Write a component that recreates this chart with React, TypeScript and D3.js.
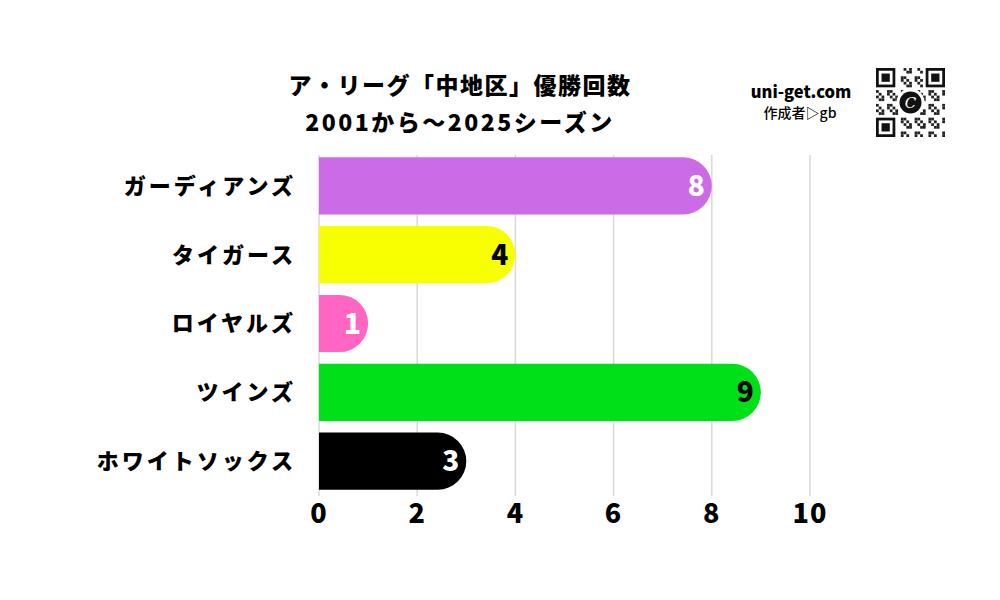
import React, { useEffect, useRef } from 'react';
import * as d3 from 'd3';

const teams = ['ガーディアンズ', 'タイガース', 'ロイヤルズ', 'ツインズ', 'ホワイトソックス'];
const titles = [8, 4, 1, 9, 3];
const barColors = ['#cb6ce6', '#f8ff00', '#ff66c4', '#00e019', '#000000'];
const valueColors = ['#ffffff', '#000000', '#ffffff', '#000000', '#ffffff'];
const xTicks = [0, 2, 4, 6, 8, 10];
const titleLines = ['ア・リーグ「中地区」優勝回数', '2001から～2025シーズン'];

const FONT = '"Noto Sans CJK JP", "Noto Sans", sans-serif';

export default function App() {
  const svgRef = useRef<SVGSVGElement>(null);

  useEffect(() => {
    if (!svgRef.current) return;
    const svg = d3.select(svgRef.current);
    svg.selectAll('*').remove();

    const x = d3.scaleLinear().domain([0, 10]).range([319, 810]);
    const y = d3.scaleBand().domain(teams).range([149, 498]).paddingInner(0.17).paddingOuter(0.12);

    svg.append('rect').attr('width', 1000).attr('height', 600).attr('fill', '#ffffff');

    // grid
    svg.append('g').selectAll('line').data(xTicks).join('line')
      .attr('x1', d => x(d)).attr('x2', d => x(d))
      .attr('y1', 155).attr('y2', 496)
      .attr('stroke', '#d9d9d9').attr('stroke-width', 1.5);

    // bars: flat left, rounded right end
    const h = y.bandwidth();
    const r = h / 2;
    svg.append('g').selectAll('path').data(teams).join('path')
      .attr('d', (t, i) => {
        const x0 = x(0);
        const x1 = x(titles[i]);
        const y0 = y(t)!;
        const rr = Math.min(r, x1 - x0);
        return `M${x0},${y0}H${x1 - rr}A${rr},${r} 0 0 1 ${x1},${y0 + r}A${rr},${r} 0 0 1 ${x1 - rr},${y0 + h}H${x0}Z`;
      })
      .attr('fill', (_, i) => barColors[i]);

    // value labels
    svg.append('g').selectAll('text').data(teams).join('text')
      .attr('x', (_, i) => x(titles[i]) - 7)
      .attr('y', t => y(t)! + h / 2)
      .attr('dy', '0.36em')
      .attr('text-anchor', 'end')
      .attr('font-family', FONT).attr('font-weight', 900).attr('font-size', 28)
      .attr('fill', (_, i) => valueColors[i])
      .text((_, i) => titles[i]);

    // category labels
    svg.append('g').selectAll('text').data(teams).join('text')
      .attr('x', 296)
      .attr('y', t => y(t)! + h / 2)
      .attr('dy', '0.36em')
      .attr('text-anchor', 'end')
      .attr('font-family', FONT).attr('font-weight', 900).attr('font-size', 22)
      .attr('letter-spacing', 3)
      .attr('fill', '#000')
      .text(t => t);

    // x tick labels
    svg.append('g').selectAll('text').data(xTicks).join('text')
      .attr('x', d => x(d)).attr('y', 513).attr('dy', '0.36em')
      .attr('text-anchor', 'middle')
      .attr('font-family', FONT).attr('font-weight', 900).attr('font-size', 27)
      .attr('letter-spacing', 1)
      .attr('fill', '#000')
      .text(d => d);

    // title
    svg.append('g').selectAll('text').data(titleLines).join('text')
      .attr('x', 460).attr('y', (_, i) => 86 + i * 37).attr('dy', '0.36em')
      .attr('text-anchor', 'middle')
      .attr('font-family', FONT).attr('font-weight', 900).attr('font-size', 23)
      .attr('letter-spacing', (_, i) => (i === 0 ? 1.5 : 2.5))
      .attr('fill', '#000')
      .text(d => d);

    // branding
    svg.append('text').attr('x', 801).attr('y', 98).attr('text-anchor', 'middle')
      .attr('font-family', FONT).attr('font-weight', 900).attr('font-size', 16.5)
      .text('uni-get.com');
    svg.append('text').attr('x', 800).attr('y', 118).attr('text-anchor', 'middle')
      .attr('font-family', FONT).attr('font-weight', 500).attr('font-size', 14)
      .text('作成者▷gb');

    // QR-like badge
    const qx = 876, qy = 68, qs = 69, n = 25, m = qs / n;
    const qr = svg.append('g');
    qr.append('rect').attr('x', qx).attr('y', qy).attr('width', qs).attr('height', qs).attr('fill', '#fff');
    const cells: [number, number][] = [];
    for (let i = 0; i < n; i++) {
      for (let j = 0; j < n; j++) {
        const inFinder = (i < 8 && j < 8) || (i < 8 && j >= n - 8) || (i >= n - 8 && j < 8);
        if (inFinder) continue;
        if (((i * 7 + j * 13 + i * j) % 5) < 2) cells.push([i, j]);
      }
    }
    qr.selectAll('rect.m').data(cells).join('rect').attr('class', 'm')
      .attr('x', d => qx + d[1] * m).attr('y', d => qy + d[0] * m)
      .attr('width', m).attr('height', m).attr('fill', '#222');
    const finders: [number, number][] = [[0, 0], [0, n - 7], [n - 7, 0]];
    finders.forEach(([i, j]) => {
      qr.append('rect').attr('x', qx + j * m).attr('y', qy + i * m).attr('width', 7 * m).attr('height', 7 * m).attr('fill', '#111');
      qr.append('rect').attr('x', qx + (j + 1) * m).attr('y', qy + (i + 1) * m).attr('width', 5 * m).attr('height', 5 * m).attr('fill', '#fff');
      qr.append('rect').attr('x', qx + (j + 2) * m).attr('y', qy + (i + 2) * m).attr('width', 3 * m).attr('height', 3 * m).attr('fill', '#111');
    });
    qr.append('circle').attr('cx', qx + qs / 2).attr('cy', qy + qs / 2).attr('r', 14).attr('fill', '#fff');
    qr.append('circle').attr('cx', qx + qs / 2).attr('cy', qy + qs / 2).attr('r', 11).attr('fill', '#111');
    qr.append('text').attr('x', qx + qs / 2).attr('y', qy + qs / 2).attr('dy', '0.36em')
      .attr('text-anchor', 'middle').attr('font-family', 'DejaVu Serif, serif').attr('font-style', 'italic')
      .attr('font-size', 15).attr('fill', '#fff').text('C');
  }, []);

  return (
    <div style={{ margin: -8 }}>
      <svg ref={svgRef} width={1000} height={600} viewBox="0 0 1000 600" style={{ display: 'block' }} />
    </div>
  );
}
